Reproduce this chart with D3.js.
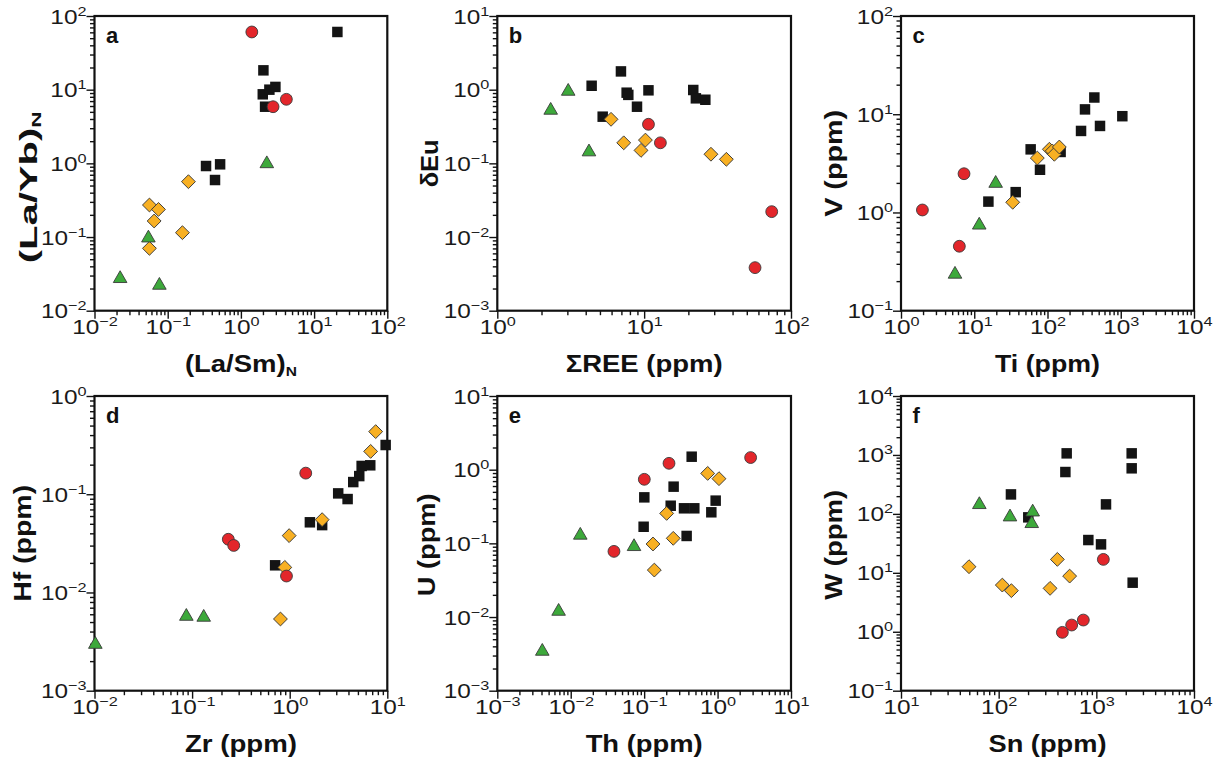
<!DOCTYPE html>
<html><head><meta charset="utf-8">
<script src="https://cdn.jsdelivr.net/npm/d3@7"></script>
<style>body{margin:0;background:#fff} svg{display:block}</style>
</head><body>
<svg id="chart" width="1218" height="762"></svg>
<script>
// ---------------- data ----------------
const panelIds = ['a','b','c','d','e','f'];
const xTitles = [['(La/Sm)','N'],['ΣREE (ppm)',''],['Ti (ppm)',''],['Zr (ppm)',''],['Th (ppm)',''],['Sn (ppm)','']];
const yTitles = [['(La/Yb)','N'],['δEu',''],['V (ppm)',''],['Hf (ppm)',''],['U (ppm)',''],['W (ppm)','']];
const xDomains = [[1e-2,1e2],[1e0,1e2],[1e0,1e4],[1e-2,1e1],[1e-3,1e1],[1e1,1e4]];
const yDomains = [[1e-2,1e2],[1e-3,1e1],[1e-1,1e2],[1e-3,1e0],[1e-3,1e1],[1e-1,1e4]];

const aSquares = [[20.8,60.7],[2.03,18.3],[1.99,8.65],[2.45,10.0],[2.96,10.9],[2.14,5.87],[0.334,0.92],[0.52,0.97],[0.443,0.594]];
const aCircles = [[1.41,60.7],[2.75,5.87],[4.18,7.4]];
const aDiamonds = [[0.192,0.564],[0.0563,0.272],[0.0748,0.237],[0.0653,0.165],[0.159,0.1146],[0.0563,0.0702]];
const aTriangles = [[0.0545,0.103],[0.0224,0.029],[0.077,0.0235],[2.26,1.05]];

const bSquares = [[6.95,1.77],[4.39,1.13],[7.6,0.91],[7.8,0.85],[10.7,0.98],[8.94,0.587],[21.6,0.99],[22.5,0.763],[26.1,0.73],[5.22,0.43]];
const bCircles = [[10.7,0.339],[12.9,0.19],[56.9,0.00384],[73.9,0.0221]];
const bDiamonds = [[5.95,0.396],[7.26,0.19],[9.52,0.15],[10.2,0.207],[28.5,0.133],[36.3,0.1135]];
const bTriangles = [[2.31,0.558],[3.04,1.01],[4.21,0.152]];

const cSquares = [[15.6,1.29],[36.8,1.61],[58.9,4.39],[79,2.72],[151,4.13],[287,6.76],[325,11.2],[436,14.8],[521,7.6],[1051,9.55]];
const cCircles = [[1.96,1.06],[7.25,2.48],[6.26,0.453]];
const cDiamonds = [[33.5,1.27],[72.6,3.58],[106,4.4],[116,4.23],[124,3.91],[145,4.64]];
const cTriangles = [[5.46,0.246],[11.7,0.778],[19.6,2.07]];

const dSquares = [[0.709,0.0189],[1.61,0.0518],[2.15,0.0485],[3.14,0.102],[3.92,0.0893],[4.48,0.133],[5.16,0.153],[5.46,0.194],[6.69,0.197],[9.62,0.317]];
const dCircles = [[0.235,0.0348],[0.267,0.0301],[1.46,0.164],[0.927,0.0147]];
const dDiamonds = [[0.804,0.00537],[0.891,0.018],[0.987,0.0379],[2.15,0.0551],[6.75,0.273],[7.6,0.434]];
const dTriangles = [[0.0102,0.0031],[0.0873,0.00598],[0.1315,0.00585]];

const eSquares = [[0.1005,0.421],[0.0984,0.168],[0.252,0.588],[0.23,0.324],[0.349,0.299],[0.482,0.299],[0.444,1.5],[0.379,0.126],[0.822,0.264],[0.942,0.38]];
const eCircles = [[0.0388,0.0778],[0.1005,0.74],[0.218,1.22],[2.82,1.46]];
const eDiamonds = [[0.1376,0.0434],[0.132,0.098],[0.2025,0.255],[0.249,0.117],[0.733,0.89],[1.045,0.755]];
const eTriangles = [[0.0041,0.00364],[0.00684,0.0127],[0.0135,0.137],[0.0728,0.096]];

const fSquares = [[133.6,214],[201,87.3],[497,1064],[482,513],[2301,1064],[2301,593],[1256,145],[828,36],[1117,30.4],[2355,6.8]];
const fCircles = [[449,0.977],[559,1.3],[736,1.58],[1180,16.9]];
const fDiamonds = [[49.7,12.7],[109,6.2],[135,4.98],[336,5.45],[399,16.9],[533,8.8]];
const fTriangles = [[63.4,155],[130.6,95.7],[223,116],[218,73.8]];

const panelData = [
  [aSquares,aDiamonds,aCircles,aTriangles],
  [bSquares,bDiamonds,bCircles,bTriangles],
  [cSquares,cDiamonds,cCircles,cTriangles],
  [dSquares,dDiamonds,dCircles,dTriangles],
  [eSquares,eDiamonds,eCircles,eTriangles],
  [fSquares,fDiamonds,fCircles,fTriangles]
];

// ---------------- layout / style ----------------
const cols = [[94.5,387.3],[497.3,791],[901,1194]];
const rows = [[16,310.7],[396,690.7]];
const yTitleOffset = [58,59,59,64,62,59];
const yTitleCenterShift = [24,0,0,0,1.5,1.5];
const xTitleLen = [112,157,105,112,117,118];
const yTitleLen = [152,48,107,117,103,110];
const FONT = "'Liberation Sans', Arial, sans-serif";
const SX = 1.25;       // horizontal stretch of tick labels
const TICK_FS = 19.5, EXP_FS = 13, TITLE_FS = 23, SUB_FS = 13, LETTER_FS = 22;

const svg = d3.select('#chart');

function expStr(e){ return e < 0 ? '\u2212' + (-e) : String(e); }

const styles = [
  {type:'square', fill:'#141414', stroke:'none'},
  {type:'diamond', fill:'#F8B023', stroke:'#3a3a3a'},
  {type:'circle', fill:'#E3262B', stroke:'#3a3a3a'},
  {type:'triangle', fill:'#3DA93B', stroke:'#3a3a3a'}
];
const symSquare = d3.symbol().type(d3.symbolSquare).size(110)();
const symDiamond = d3.symbol().type(d3.symbolSquare).size(96)();
const symCircle = d3.symbol().type(d3.symbolCircle).size(110)();
const triSize = 80;
const symTriangle = d3.symbol().type(d3.symbolTriangle).size(triSize)();
const triR = Math.sqrt(triSize/(Math.sqrt(3)*3));

panelIds.forEach((id,i)=>{
  const [x0,x1] = cols[i%3];
  const [y0,y1] = rows[Math.floor(i/3)];
  const x = d3.scaleLog().domain(xDomains[i]).range([x0,x1]);
  const y = d3.scaleLog().domain(yDomains[i]).range([y1,y0]);
  const g = svg.append('g');

  function decades(dom){ const a=[]; for(let e=Math.round(Math.log10(dom[0])); e<=Math.round(Math.log10(dom[1])); e++) a.push(e); return a; }
  function minors(dom){ const a=[]; const ds=decades(dom); for(let k=0;k<ds.length-1;k++){ for(let m=2;m<=9;m++) a.push(m*Math.pow(10,ds[k])); } return a; }
  const xd = decades(xDomains[i]), yd = decades(yDomains[i]);

  const gxm = g.append('g').attr('transform',`translate(0,${y1})`)
    .call(d3.axisBottom(x).tickValues(minors(xDomains[i])).tickSize(4.5).tickSizeOuter(0).tickFormat(''));
  const gym = g.append('g').attr('transform',`translate(${x0},0)`)
    .call(d3.axisLeft(y).tickValues(minors(yDomains[i])).tickSize(4.5).tickSizeOuter(0).tickFormat(''));
  const gx = g.append('g').attr('transform',`translate(0,${y1})`)
    .call(d3.axisBottom(x).tickValues(xd.map(e=>Math.pow(10,e))).tickSize(8).tickSizeOuter(0).tickFormat(''));
  const gy = g.append('g').attr('transform',`translate(${x0},0)`)
    .call(d3.axisLeft(y).tickValues(yd.map(e=>Math.pow(10,e))).tickSize(8).tickSizeOuter(0).tickFormat(''));
  [gxm,gym,gx,gy].forEach(a=>{ a.select('.domain').remove(); a.selectAll('line').attr('stroke','#111').attr('stroke-width',1.4); });

  gx.selectAll('.tick').each(function(d){
    const e = Math.round(Math.log10(d));
    const t = d3.select(this).append('text')
      .attr('transform',`translate(0,23) scale(${SX},1)`)
      .attr('text-anchor','start')
      .attr('fill','#1a1a1a').attr('font-family',FONT).attr('font-size',TICK_FS);
    t.append('tspan').text('10');
    t.append('tspan').attr('dy',-8).attr('font-size',EXP_FS).text(expStr(e));
    const len = t.node().getComputedTextLength();
    t.attr('x',-len/2);
  });
  gy.selectAll('.tick').each(function(d){
    const e = Math.round(Math.log10(d));
    const t = d3.select(this).append('text')
      .attr('transform',`translate(-8,7) scale(${SX},1)`)
      .attr('text-anchor','end')
      .attr('fill','#1a1a1a').attr('font-family',FONT).attr('font-size',TICK_FS);
    t.append('tspan').text('10');
    t.append('tspan').attr('dy',-8).attr('font-size',EXP_FS).text(expStr(e));
  });

  g.append('rect').attr('x',x0).attr('y',y0).attr('width',x1-x0).attr('height',y1-y0)
    .attr('fill','none').attr('stroke','#111').attr('stroke-width',2.2);

  const xt = g.append('text')
    .attr('transform',`translate(${(x0+x1)/2},${y1+61})`)
    .attr('text-anchor','middle').attr('font-family',FONT).attr('font-weight','bold')
    .attr('font-size',TITLE_FS).attr('fill','#111')
    .attr('textLength',xTitleLen[i]).attr('lengthAdjust','spacingAndGlyphs');
  xt.append('tspan').text(xTitles[i][0]);
  if (xTitles[i][1]) xt.append('tspan').attr('dy',4).attr('font-size',SUB_FS).text(xTitles[i][1]);

  const yt = g.append('text')
    .attr('transform',`translate(${x0-yTitleOffset[i]},${(y0+y1)/2+yTitleCenterShift[i]}) rotate(-90)`)
    .attr('text-anchor','middle').attr('font-family',FONT).attr('font-weight','bold')
    .attr('font-size',TITLE_FS).attr('fill','#111')
    .attr('textLength',yTitleLen[i]).attr('lengthAdjust','spacingAndGlyphs');
  yt.append('tspan').text(yTitles[i][0]);
  if (yTitles[i][1]) yt.append('tspan').attr('dy',4).attr('font-size',SUB_FS).text(yTitles[i][1]);

  g.append('text').attr('x',x0+11.5).attr('y',y0+26.5)
    .attr('font-family',FONT).attr('font-weight','bold').attr('font-size',LETTER_FS)
    .attr('fill','#111').text(id);

  panelData[i].forEach((pts,k)=>{
    const st = styles[k];
    const sel = g.append('g').selectAll('path').data(pts).join('path')
      .attr('fill',st.fill).attr('stroke',st.stroke).attr('stroke-width',0.9);
    if (st.type==='square') sel.attr('d',symSquare).attr('transform',d=>`translate(${x(d[0])},${y(d[1])})`);
    if (st.type==='diamond') sel.attr('d',symDiamond).attr('transform',d=>`translate(${x(d[0])},${y(d[1])}) rotate(45)`);
    if (st.type==='circle') sel.attr('d',symCircle).attr('transform',d=>`translate(${x(d[0])},${y(d[1])})`);
    if (st.type==='triangle') sel.attr('d',symTriangle).attr('transform',d=>`translate(${x(d[0])},${y(d[1])+triR/2})`);
  });
});
</script>
</body></html>
